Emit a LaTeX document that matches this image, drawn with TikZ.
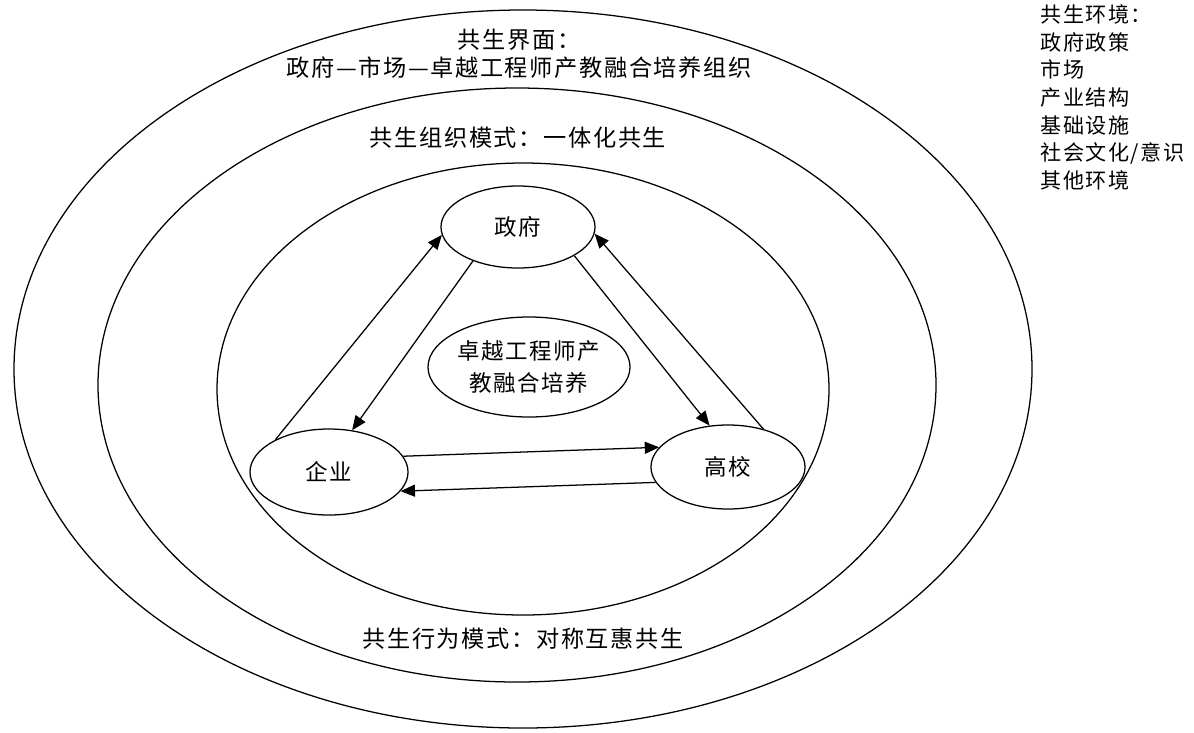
\documentclass[tikz,border=0pt]{standalone}
\usepackage{fontspec}
\newfontfamily\cjk{Noto Sans CJK SC}
\newfontfamily\cjkwide{Noto Sans CJK SC}[LetterSpace=7]
\usetikzlibrary{arrows.meta,shapes.geometric}
\begin{document}
\begin{tikzpicture}[x=0.025cm,y=-0.025cm,line width=0.9pt,
    party/.style={draw,ellipse,inner sep=0pt,align=center,font=\cjkwide\fontsize{16pt}{22.8pt}\selectfont},
    ringtext/.style={inner sep=0pt,align=center,font=\cjkwide\fontsize{16.5pt}{19.9pt}\selectfont},
    flow/.style={-{Triangle[length=3.6mm,width=3mm]}}]
        \useasboundingbox (0,0) rectangle (1194,732);
        \draw (523,369) ellipse [x radius=509,y radius=359];
        \draw (517,385) ellipse [x radius=419,y radius=297];
        \draw (523,389) ellipse [x radius=306,y radius=226];
        \node[ringtext] (jiemian) at (519,54) {共生界面：\\政府—市场—卓越工程师产教融合培养组织};
        \node[ringtext] (zuzhi) at (518,138) {共生组织模式：一体化共生};
        \node[ringtext] (xingwei) at (523,639) {共生行为模式：对称互惠共生};
        \node[ringtext,anchor=north west,align=left,font=\cjkwide\fontsize{15pt}{19.7pt}\selectfont] (huanjing) at (1040,4)
            {共生环境：\\政府政策\\市场\\产业结构\\基础设施\\社会文化/意识\\其他环境};
        \node[party,minimum width=3.85cm,minimum height=2.05cm] (zhengfu) at (518,227) {政府};
        \node[party,minimum width=4.7cm,minimum height=2.5cm] (peiyang) at (529,367) {卓越工程师产\\教融合培养};
        \node[party,minimum width=3.95cm,minimum height=2.15cm] (qiye) at (329,472) {企业};
        \node[party,minimum width=3.85cm,minimum height=2.1cm] (gaoxiao) at (728,467) {高校};
        \draw[flow] (qiye.149) -- (zhengfu.186);
        \draw[flow] (zhengfu.217) -- (qiye.61);
        \draw[flow] (zhengfu.-27) -- (gaoxiao.114);
        \draw[flow] (gaoxiao.47) -- (zhengfu.-5);
        \draw[flow] (qiye.12) -- (gaoxiao.164);
        \draw[flow] (gaoxiao.192) -- (qiye.-15);
\end{tikzpicture}
\end{document}
